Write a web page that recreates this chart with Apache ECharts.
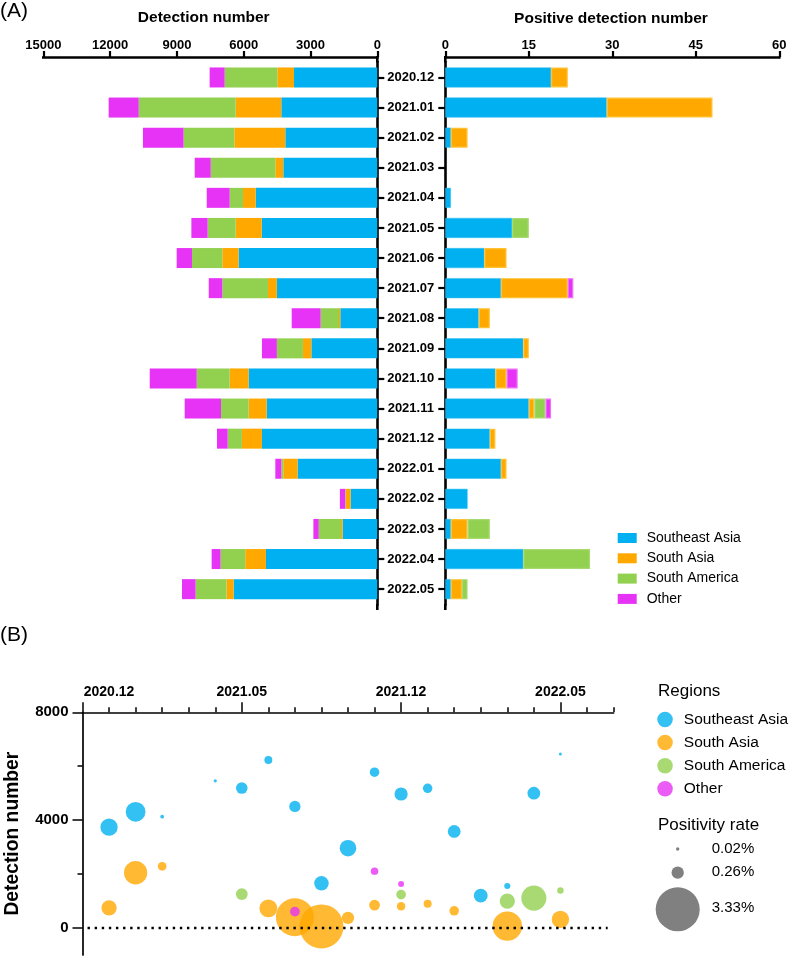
<!DOCTYPE html>
<html>
<head>
<meta charset="utf-8">
<style>html,body{margin:0;padding:0;background:#fff}#c{width:789px;height:957px}</style>
<script src="https://cdn.jsdelivr.net/npm/echarts@6/dist/echarts.min.js"></script>
</head>
<body>
<div id="c"></div>
<script>
const months = ['2020.12','2021.01','2021.02','2021.03','2021.04','2021.05','2021.06','2021.07','2021.08','2021.09','2021.10','2021.11','2021.12','2022.01','2022.02','2022.03','2022.04','2022.05'];
const regions = ['Southeast Asia','South Asia','South America','Other'];
const colors = ['#00B0F0','#FFA800','#92D050','#E633F5'];
const edgeColors = ['#33BFF3','#FFC233','#A8D96F','#EE70F8'];

const detSE = [3740,4310,4130,4220,5460,5190,6230,4510,1660,2960,5780,4970,5180,3580,1200,1560,5000,6450];
const detSA = [750,2050,2290,360,570,1170,730,400,60,380,850,810,900,640,220,70,930,320];
const detSAm = [2365,4355,2280,2900,600,1260,1360,2050,825,1170,1480,1240,640,90,20,1000,1110,1390];
const detOther = [675,1350,1825,720,1030,730,690,610,1300,670,2110,1630,480,270,240,240,400,610];

const posSE = [19,29,1,0,1,12,7,10,6,14,9,15,8,10,4,1,14,1];
const posSA = [3,19,3,0,0,0,4,12,2,1,2,1,1,1,0,3,0,2];
const posSAm = [0,0,0,0,0,3,0,0,0,0,0,2,0,0,0,4,12,1];
const posOther = [0,0,0,0,0,0,0,1,0,0,2,1,0,0,0,0,0,0];

const rateSE = [0.51,0.67,0.024,null,0.018,0.23,0.11,0.22,0.36,0.47,0.156,0.30,0.154,0.28,0.33,0.064,0.28,0.0155];
const rateSA = [0.40,0.93,0.13,null,null,null,0.55,2.48,3.33,0.26,0.20,0.123,0.11,0.156,null,1.49,null,0.52];
const rateSAm = [null,null,null,null,null,0.24,null,null,null,null,null,0.16,null,null,null,0.40,1.08,0.072];
const rateOther = [null,null,null,null,null,null,null,0.164,null,null,0.095,0.061,null,null,null,null,null,null];

const rateLegend = [0.02,0.26,3.33];
const bubbleLabelPos = [0,5,11,17];
const bubbleLabels = ['2020.12','2021.05','2021.12','2022.05'];
const bubbleMajorTicks = [-1,5,11,17];

const FONT = '"Liberation Sans", Arial, sans-serif';
const det = [detSE,detSA,detSAm,detOther];
const pos = [posSE,posSA,posSAm,posOther];
const rate = [rateSE,rateSA,rateSAm,rateOther];
const radius = r => 12.06 * Math.sqrt(r);

const barAxisLine = {show:true,onZero:false,lineStyle:{color:'#000',width:2.6,cap:'square'}};
const tickStyle = {color:'#000',width:2.2};
const plain = v => String(v);

const grids = [
  {left:43.3,top:62.4,width:334,height:541.8,outerBoundsMode:'none'},
  {left:445.3,top:62.4,width:334,height:541.8,outerBoundsMode:'none'},
  {left:82.5,top:712.3,width:531,height:242.7,outerBoundsMode:'none'},
  {left:82.5,top:712.3,width:531,height:242.7,outerBoundsMode:'none'}
];
const xAxes = [
  {gridIndex:0,type:'value',position:'top',inverse:true,min:0,max:15000,interval:3000,offset:5.4,
   splitLine:{show:false},axisLine:barAxisLine,axisTick:{show:true,length:6,lineStyle:tickStyle},
   axisLabel:{show:true,margin:5.5,formatter:plain,fontFamily:FONT,fontWeight:'bold',fontSize:13,color:'#000'}},
  {gridIndex:1,type:'value',position:'top',min:0,max:60,interval:15,offset:5.4,
   splitLine:{show:false},axisLine:barAxisLine,axisTick:{show:true,length:6,lineStyle:tickStyle},
   axisLabel:{show:true,margin:5.5,formatter:plain,fontFamily:FONT,fontWeight:'bold',fontSize:13,color:'#000'}},
  {gridIndex:2,type:'value',position:'top',min:-1,max:19,interval:1,
   splitLine:{show:false},
   axisLine:{show:true,onZero:false,lineStyle:{color:'#000',width:1.7}},
   axisTick:{show:true,length:5,lineStyle:{color:'#000',width:1.5}},
   axisLabel:{show:false}},
  {gridIndex:3,type:'value',position:'top',min:-1,max:19,interval:1,
   splitLine:{show:false},
   axisLine:{show:false,onZero:false},
   axisTick:{show:true,length:10,customValues:bubbleMajorTicks,lineStyle:{color:'#000',width:1.5}},
   axisLabel:{show:true,customValues:bubbleLabelPos,margin:13,hideOverlap:false,showMinLabel:true,showMaxLabel:true,
     fontFamily:FONT,fontWeight:'bold',fontSize:14,color:'#000',
     formatter:v=>bubbleLabels[bubbleLabelPos.indexOf(v)]}}
];
const yAxes = [
  {gridIndex:0,type:'category',inverse:true,position:'right',data:months,
   axisLine:barAxisLine,axisTick:{show:true,alignWithLabel:true,length:7,lineStyle:tickStyle},
   axisLabel:{show:true,interval:0,align:'center',margin:33.5,fontFamily:FONT,fontWeight:'bold',fontSize:13,color:'#000'}},
  {gridIndex:1,type:'category',inverse:true,position:'left',data:months,
   axisLine:barAxisLine,axisTick:{show:true,alignWithLabel:true,length:7,lineStyle:tickStyle},
   axisLabel:{show:false}},
  {gridIndex:2,type:'value',min:-1000,max:8000,position:'left',
   splitLine:{show:false},
   axisLine:{show:true,onZero:false,lineStyle:{color:'#000',width:1.7}},
   axisTick:{show:true,length:5,customValues:[0,2000,4000,6000,8000],lineStyle:{color:'#000',width:1.5}},
   axisLabel:{show:false},
   name:'Detection number',nameLocation:'middle',nameGap:60.5,nameRotate:90,
   nameTextStyle:{fontFamily:FONT,fontWeight:'bold',fontSize:19.3,color:'#000'}},
  {gridIndex:3,type:'value',min:-1000,max:8000,position:'left',
   splitLine:{show:false},
   axisLine:{show:false,onZero:false},
   axisTick:{show:true,length:10,customValues:[0,4000,8000],lineStyle:{color:'#000',width:1.5}},
   axisLabel:{show:true,customValues:[0,4000,8000],margin:14,showMinLabel:true,showMaxLabel:true,
     formatter:plain,fontFamily:FONT,fontWeight:'bold',fontSize:15,color:'#000'}}
];

const series = [];
regions.forEach((name,i)=>{
  series.push({name,type:'bar',xAxisIndex:0,yAxisIndex:0,stack:'det',barWidth:20,
    itemStyle:{color:colors[i]},data:det[i]});
});
regions.forEach((name,i)=>{
  series.push({name,type:'bar',xAxisIndex:1,yAxisIndex:1,stack:'pos',barWidth:20,
    itemStyle:{color:colors[i],borderColor:edgeColors[i],borderWidth:i===0?0.5:1.2},
    data:pos[i].map(v=>v===0?null:v)});
});
regions.forEach((name,i)=>{
  const pts = [];
  months.forEach((m,k)=>{ if(rate[i][k]!==null) pts.push([k,det[i][k],rate[i][k]]); });
  const s = {name,type:'scatter',xAxisIndex:2,yAxisIndex:2,clip:false,
    symbolSize:v=>2*radius(v[2]),
    itemStyle:{color:colors[i],opacity:0.8},data:pts};
  if(i===0){
    s.markLine={silent:true,symbol:'none',label:{show:false},animation:false,
      lineStyle:{color:'#000',type:[2.4,4.7],width:2.4,cap:'butt'},
      data:[[{coord:[-0.81,0]},{coord:[18.78,0]}]]};
  }
  series.push(s);
});

const txt = (text,x,y,font,align)=>({type:'text',x,y,silent:true,z:10,
  style:{text,font,fill:'#000',textAlign:align||'left',textVerticalAlign:'middle'}});
const vline = (x,y1,y2)=>({type:'line',silent:true,z:5,
  shape:{x1:x,y1,x2:x,y2},style:{stroke:'#000',lineWidth:2.6}});

const graphic = [
  txt('(A)',0,11,'21px '+FONT),
  txt('(B)',0,635,'21px '+FONT),
  txt('Detection number',203.7,18,'bold 15.5px '+FONT,'center'),
  txt('Positive detection number',611,19,'bold 15.5px '+FONT,'center'),
  vline(377.3,56,62.4),vline(377.3,604.2,610),
  vline(445.3,56,62.4),vline(445.3,604.2,610),
  txt('Regions',658,691,'17px '+FONT),
  txt('Positivity rate',658,825.7,'17px '+FONT)
];
const legendY = [849,872.7,909.3];
const legendTextY = [849,872,907.7];
rateLegend.forEach((r,i)=>{
  graphic.push({type:'circle',silent:true,shape:{cx:677.7,cy:legendY[i],r:radius(r)},style:{fill:'#808080'}});
  graphic.push(txt(r.toFixed(2)+'%',711.7,legendTextY[i],'15px '+FONT));
});

const option = {
  animation:false,
  backgroundColor:'#fff',
  textStyle:{fontFamily:FONT},
  grid:grids,xAxis:xAxes,yAxis:yAxes,series,graphic,
  legend:[
    {orient:'vertical',left:617.7,top:531,itemWidth:19,itemHeight:10,itemGap:6.3,
     selectedMode:false,icon:'rect',padding:0,
     textStyle:{fontFamily:FONT,fontSize:14,color:'#000',padding:[0,0,0,5]},itemStyle:{borderWidth:0},
     data:regions},
    {orient:'vertical',left:657.3,top:711.5,itemWidth:15.5,itemHeight:15.5,itemGap:7.1,
     selectedMode:false,padding:0,
     textStyle:{fontFamily:FONT,fontSize:15.5,color:'#000',padding:[0,0,0,6]},
     data:regions.map(name=>({name,icon:'circle',itemStyle:{opacity:0.8}}))}
  ]
};
const chart = echarts.init(document.getElementById('c'),null,{renderer:'canvas'});
chart.setOption(option);
</script>
</body>
</html>
